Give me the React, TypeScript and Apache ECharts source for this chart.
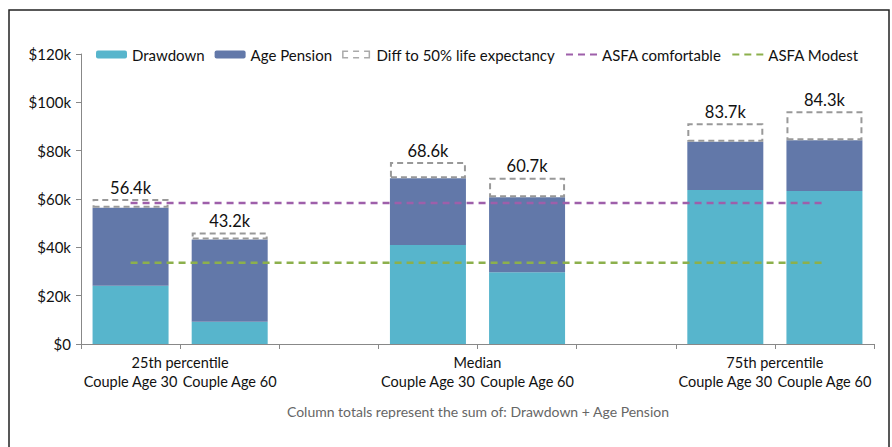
import React, { useEffect, useRef } from "react";
import * as echarts from "echarts";

const categories = [
  "Couple Age 30", "Couple Age 60", "",
  "Couple Age 30", "Couple Age 60", "",
  "Couple Age 30", "Couple Age 60",
];
const groupLabels = ["", "25th percentile", "", "", "Median", "", "", "75th percentile", ""];
const drawdown = [24.1, 9.2, null, 41.0, 29.7, null, 63.7, 63.3];
const agePension = [32.3, 34.0, null, 27.6, 31.0, null, 20.0, 21.0];
const totals = [56.4, 43.2, null, 68.6, 60.7, null, 83.7, 84.3];
const diffTo50 = [3.6, 2.9, null, 6.7, 8.1, null, 7.6, 12.0];
const asfaComfortable = [58.3, 58.3, 58.3, 58.3, 58.3, 58.3, 58.3, 58.3];
const asfaModest = [33.6, 33.6, 33.6, 33.6, 33.6, 33.6, 33.6, 33.6];
const yTicks = { min: 0, max: 120, interval: 20 };
const note = "Column totals represent the sum of: Drawdown + Age Pension";

const FONT = "Lato, 'Open Sans', sans-serif";
const DASH_BOX_ICON =
  "path://M0,0h6v1.5h-6z M11,0h6v1.5h-6z M22,0h6v1.5h-6z M0,6.5h6v1.5h-6z M11,6.5h6v1.5h-6z M22,6.5h6v1.5h-6z M0,0h1.5v8h-1.5z M26.5,0h1.5v8h-1.5z";

export default function App() {
  const ref = useRef<HTMLDivElement>(null);
  useEffect(() => {
    if (!ref.current) return;
    const chart = echarts.init(ref.current, null, { renderer: "svg" });
    chart.setOption({
      animation: false,
      backgroundColor: "#fff",
      textStyle: { fontFamily: FONT },
      legend: {
        left: 91,
        top: 42,
        itemWidth: 31,
        itemHeight: 8,
        itemGap: 10,
        textStyle: { fontSize: 15, color: "#111", fontFamily: FONT },
        data: [
          { name: "Drawdown" },
          { name: "Age Pension" },
          {
            name: "Diff to 50% life expectancy",
            icon: DASH_BOX_ICON,
            itemStyle: { color: "#aaa", borderWidth: 0 },
          },
          { name: "ASFA comfortable", itemStyle: { opacity: 0 } },
          { name: "ASFA Modest", itemStyle: { opacity: 0 } },
        ],
      },
      grid: { left: 81, right: 18, top: 54, bottom: 103, containLabel: false },
      xAxis: [
        {
          type: "category",
          data: categories,
          axisLine: { lineStyle: { color: "#888", width: 1 } },
          axisTick: { show: true, interval: 0, length: 5, lineStyle: { color: "#888" } },
          axisLabel: { interval: 0, margin: 30, fontSize: 14.5, color: "#111", fontFamily: FONT },
        },
        {
          type: "category",
          data: groupLabels,
          position: "bottom",
          boundaryGap: false,
          axisLine: { show: false },
          axisTick: { show: false },
          axisLabel: { interval: 0, margin: 11, fontSize: 14.5, color: "#111", fontFamily: FONT },
        },
      ],
      yAxis: {
        type: "value",
        min: yTicks.min,
        max: yTicks.max,
        interval: yTicks.interval,
        splitLine: { show: false },
        axisLine: { show: true, lineStyle: { color: "#888", width: 1 } },
        axisTick: { show: true, length: 5, lineStyle: { color: "#888" } },
        axisLabel: {
          margin: 10,
          fontSize: 15,
          color: "#111",
          fontFamily: FONT,
          formatter: (v: number) => (v === 0 ? "$0" : "$" + v + "k"),
        },
      },
      series: [
        {
          name: "Drawdown",
          type: "bar",
          stack: "total",
          barWidth: 76,
          data: drawdown,
          itemStyle: { color: "#57B5CC" },
        },
        {
          name: "Age Pension",
          type: "bar",
          stack: "total",
          barWidth: 76,
          data: agePension,
          itemStyle: { color: "#6278A9" },
        },
        {
          name: "Diff to 50% life expectancy",
          type: "bar",
          stack: "total",
          barWidth: 76,
          data: diffTo50,
          itemStyle: {
            color: "rgba(255,255,255,0)",
            borderColor: "#999",
            borderWidth: 2,
            borderType: [6, 4],
          },
          label: {
            show: true,
            position: "top",
            distance: 3,
            fontSize: 16.5,
            color: "#111",
            fontFamily: FONT,
            formatter: (p: any) => (totals[p.dataIndex] == null ? "" : totals[p.dataIndex] + "k"),
          },
        },
        {
          name: "ASFA comfortable",
          type: "line",
          data: asfaComfortable,
          symbol: "none",
          z: 5,
          lineStyle: { color: "#9E5FAA", width: 2.5, type: [7, 5] },
          itemStyle: { color: "#9E5FAA" },
        },
        {
          name: "ASFA Modest",
          type: "line",
          data: asfaModest,
          symbol: "none",
          z: 5,
          lineStyle: { color: "#8CB04C", width: 2.5, type: [7, 5] },
          itemStyle: { color: "#8CB04C" },
        },
      ],
      graphic: [
        {
          type: "rect",
          shape: { x: 9, y: 10, width: 880, height: 470 },
          style: { fill: "none", stroke: "#222", lineWidth: 1.5 },
          silent: true,
        },
        {
          type: "text",
          x: 478,
          y: 411,
          style: {
            text: note,
            fill: "#666",
            fontSize: 14,
            fontFamily: FONT,
            align: "center",
            verticalAlign: "middle",
          },
        },
      ],
    });
    return () => chart.dispose();
  }, []);
  return (
    <div
      ref={ref}
      style={{ position: "fixed", left: 0, top: 0, width: 892, height: 447 }}
    />
  );
}
